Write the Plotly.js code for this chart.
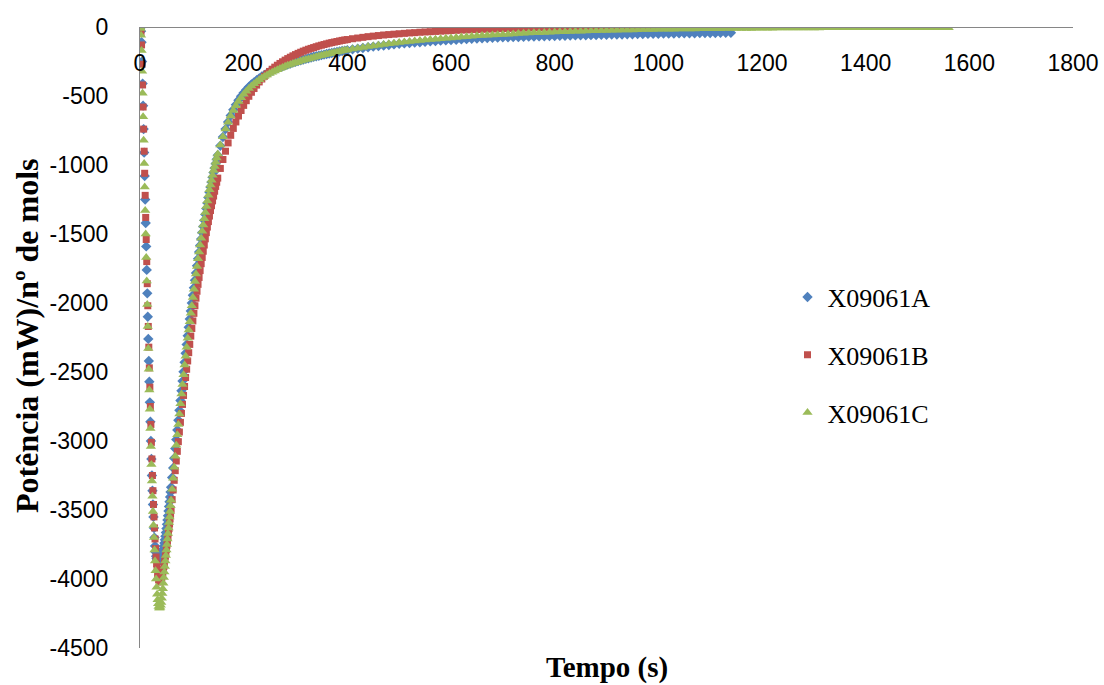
<!DOCTYPE html>
<html>
<head>
<meta charset="utf-8">
<script src="https://cdn.plot.ly/plotly-3.0.1.min.js"></script>
<style>html,body{margin:0;padding:0;background:#fff;}#chart{width:1104px;height:685px;}</style>
</head>
<body>
<div id="chart"></div>
<script>
// Tempo (s) sample times shared by all series
const time = [
0,1,2,3,4,5,6,7,8,9,10,11,12,13,14,15,16,17,18,19,20,21,22,23,24,25,26,27,28,29,
30,31,32,33,34,35,36,37,38,39,40,41,42,43,44,45,46,47,48,49,50,51,52,53,54,55,56,57,58,59,60,
62,64,66,68,70,72,74,76,78,80,82,84,86,88,90,92,94,96,98,100,
102,104,106,108,110,112,114,116,118,120,122,124,126,128,130,132,134,136,138,140,142,144,146,148,150,
155,160,165,170,175,180,185,190,195,200,205,210,215,220,225,230,235,240,245,250,
255,260,265,270,275,280,285,290,295,300,305,310,315,320,325,330,335,340,345,350,
355,360,365,370,375,380,385,390,395,400,
410,420,430,440,450,460,470,480,490,500,
510,520,530,540,550,560,570,580,590,600,
610,620,630,640,650,660,670,680,690,700,
710,720,730,740,750,760,770,780,790,800,
810,820,830,840,850,860,870,880,890,900,
910,920,930,940,950,960,970,980,990,1000,
1010,1020,1030,1040,1050,1060,1070,1080,1090,1100,
1110,1120,1130,1140,1150,1160,1170,1180,1190,1200,
1210,1220,1230,1240,1250,1260,1270,1280,1290,1300,
1310,1320,1330,1340,1350,1360,1370,1380,1390,1400,
1410,1420,1430,1440,1450,1460,1470,1480,1490,1500,
1510,1520,1530,1540,1550,1560
];

const seriesNames = ['X09061A', 'X09061B', 'X09061C'];

// X09061A (ends ~1140 s)
const valuesA = [
0,-5,-30,-110,-250,-410,-570,-740,-910,-1080,
-1250,-1420,-1590,-1760,-1930,-2100,-2260,-2420,-2570,-2720,
-2860,-3000,-3130,-3250,-3360,-3460,-3550,-3630,-3700,-3760,
-3805,-3835,-3852,-3863,-3870,-3872,-3872,-3870,-3866,-3860,
-3852,-3842,-3830,-3816,-3800,-3782,-3762,-3740,-3716,-3690,
-3663,-3634,-3604,-3573,-3541,-3508,-3474,-3440,-3405,-3370,
-3335,
-3265,-3195,-3125,-3055,-2990,-2920,-2850,-2778,-2706,-2636,
-2566,-2498,-2430,-2364,-2300,-2237,-2176,-2116,-2058,-2000,
-1944,-1889,-1835,-1782,-1730,-1680,-1631,-1583,-1536,-1490,
-1445,-1401,-1358,-1316,-1275,-1236,-1197,-1160,-1124,-1089,
-1055,-1022,-990,-959,-929,
-860,-797,-740,-688,-641,-600,-563,-531,-502,-477,
-455,-435,-417,-401,-386,-372,-359,-347,-336,-326,
-316,-307,-299,-291,-284,-277,-270,-264,-258,-252,
-246,-241,-236,-231,-226,-221,-216,-212,-208,-204,
-200,-196,-192,-188,-184,-181,-177,-174,-171,-168,
-162,-157,-152,-147,-142,-138,-134,-130,-126,-122,
-119,-116,-113,-110,-107,-104,-101,-99,-96,-94,
-92,-90,-88,-86,-84,-82,-80,-78,-77,-75,
-74,-73,-72,-71,-70,-69,-68,-67,-66,-65,
-64,-63,-62,-61,-60,-60,-59,-58,-57,-56,
-55,-54,-54,-53,-52,-51,-51,-50,-49,-49,
-48,-47,-47,-46,-46,-45,-45,-44,-44,-43,
-43,-42,-42,-42
];

// X09061B (ends ~1310 s)
const valuesB = [
0,-5,-40,-130,-270,-420,-580,-740,-900,-1060,
-1220,-1380,-1540,-1700,-1860,-2020,-2170,-2320,-2470,-2610,
-2750,-2880,-3010,-3130,-3250,-3360,-3460,-3550,-3630,-3710,
-3780,-3840,-3890,-3930,-3965,-3990,-4005,-4015,-4020,-4020,
-4015,-4005,-3990,-3975,-3955,-3935,-3910,-3885,-3860,-3835,
-3810,-3785,-3755,-3725,-3695,-3665,-3635,-3600,-3565,-3530,
-3495,
-3425,-3355,-3285,-3215,-3145,-3075,-3005,-2935,-2865,-2800,
-2735,-2670,-2605,-2540,-2480,-2420,-2360,-2300,-2240,-2185,
-2130,-2075,-2020,-1965,-1915,-1865,-1815,-1765,-1715,-1670,
-1625,-1580,-1535,-1490,-1450,-1410,-1370,-1330,-1295,-1260,
-1225,-1190,-1155,-1125,-1095,
-1025,-960,-900,-840,-785,-735,-688,-645,-605,-568,
-534,-502,-473,-446,-421,-398,-377,-357,-339,-322,
-306,-291,-277,-264,-252,-240,-229,-219,-209,-200,
-191,-183,-175,-168,-161,-155,-149,-143,-137,-132,
-127,-122,-117,-113,-109,-105,-101,-97,-94,-91,
-85,-80,-75,-70,-66,-62,-58,-55,-52,-49,
-46,-43,-41,-38,-36,-34,-32,-30,-28,-26,
-24,-22,-21,-19,-18,-16,-15,-14,-12,-11,
-10,-9,-8,-7,-6,-5,-4,-3,-2,-1,
0,0,1,2,2,3,3,4,4,5,
5,6,6,7,7,8,8,8,9,9,
10,10,10,11,11,11,12,12,12,13,
13,13,14,14,14,14,15,15,15,15,
15,16,16,16,16,16,16,16,16,16,
16
];

// X09061C (ends ~1560 s)
const valuesC = [
0,-10,-60,-170,-320,-480,-650,-820,-990,-1160,
-1330,-1500,-1670,-1840,-2010,-2170,-2330,-2480,-2630,-2770,
-2910,-3040,-3170,-3290,-3400,-3510,-3610,-3700,-3790,-3870,
-3940,-4000,-4060,-4110,-4150,-4180,-4200,-4210,-4210,-4205,
-4190,-4170,-4140,-4105,-4070,-4030,-3990,-3950,-3910,-3870,
-3830,-3790,-3750,-3710,-3670,-3630,-3590,-3550,-3510,-3470,
-3430,
-3350,-3270,-3190,-3110,-3030,-2955,-2880,-2805,-2730,-2660,
-2590,-2520,-2450,-2385,-2320,-2255,-2195,-2135,-2075,-2020,
-1960,-1900,-1845,-1790,-1735,-1680,-1630,-1580,-1530,-1480,
-1435,-1390,-1345,-1300,-1260,-1220,-1180,-1145,-1110,-1075,
-1040,-1010,-980,-950,-920,
-855,-795,-740,-690,-645,-605,-570,-540,-512,-488,
-466,-446,-428,-412,-397,-383,-370,-358,-347,-337,
-327,-318,-309,-301,-293,-285,-278,-271,-265,-259,
-253,-247,-241,-236,-231,-226,-221,-216,-211,-206,
-201,-197,-193,-189,-185,-181,-177,-173,-169,-166,
-160,-154,-148,-142,-137,-132,-127,-122,-117,-113,
-109,-105,-101,-97,-94,-91,-88,-85,-82,-79,
-76,-73,-70,-67,-64,-62,-60,-58,-56,-54,
-52,-50,-48,-46,-44,-42,-41,-39,-38,-36,
-35,-34,-32,-31,-30,-29,-28,-27,-26,-25,
-24,-23,-22,-22,-21,-20,-19,-19,-18,-17,
-17,-16,-16,-15,-15,-14,-14,-13,-13,-12,
-12,-12,-11,-11,-11,-10,-10,-10,-9,-9,
-9,-9,-8,-8,-8,-8,-7,-7,-7,-7,
-7,-6,-6,-6,-6,-6,-6,-5,-5,-5,
-5,-5,-5,-5,-5,-5,-5,-5,-5,-5,
-5,-5,-5,-5,-5,-5
];

const xTickVals = [0,200,400,600,800,1000,1200,1400,1600,1800];
const xTickText = ['0','200','400','600','800','1000','1200','1400','1600','1800'];
const yTickVals = [0,-500,-1000,-1500,-2000,-2500,-3000,-3500,-4000,-4500];
const yTickText = ['0','-500','-1000','-1500','-2000','-2500','-3000','-3500','-4000','-4500'];

const tickFont = {family: 'Liberation Sans, Arial, sans-serif', size: 23, color: '#000'};

function mk(name, vals, symbol, size, color, grp) {
  return {
    type: 'scatter', mode: 'markers', name: name, legendgroup: grp,
    x: time.slice(0, vals.length), y: vals,
    marker: {symbol: symbol, size: size, color: color, line: {width: 0}}
  };
}

const data = [
  mk(seriesNames[0], valuesA, 'diamond', 8, '#4F81BD', 'a'),
  mk(seriesNames[1], valuesB, 'square', 7, '#C0504D', 'b'),
  mk(seriesNames[2], valuesC, 'triangle-up', 9, '#9BBB59', 'c')
];

const layout = {
  width: 1104, height: 685,
  margin: {l: 140, r: 31, t: 27, b: 37},
  paper_bgcolor: '#ffffff', plot_bgcolor: '#ffffff',
  showlegend: true,
  legend: {
    x: 0.694, xanchor: 'left', y: 0.603, yanchor: 'top',
    font: {family: 'Liberation Serif, Times New Roman, serif', size: 26, color: '#000'},
    tracegroupgap: 21, bgcolor: 'rgba(0,0,0,0)', borderwidth: 0, itemsizing: 'trace'
  },
  xaxis: {
    range: [0, 1800], tickvals: xTickVals, ticktext: xTickText, anchor: 'free', position: 1, side: 'bottom',
    showline: true, linecolor: '#868686', linewidth: 1, showgrid: false, zeroline: false,
    ticks: '', ticklabelstandoff: 15, tickfont: tickFont
  },
  yaxis: {
    range: [-4500, 0], tickvals: yTickVals, ticktext: yTickText,
    showline: true, linecolor: '#868686', linewidth: 1, showgrid: false, zeroline: false,
    ticks: '', ticklabelstandoff: 26, tickfont: tickFont
  },
  annotations: [
    {text: 'Tempo (s)', xref: 'paper', yref: 'paper', x: 0.5, y: -0.0322,
     xanchor: 'center', yanchor: 'middle', showarrow: false,
     font: {family: 'Liberation Serif, Times New Roman, serif', size: 29, color: '#000', weight: 'bold'}},
    {text: 'Potência (mW)/nº de mols', xref: 'paper', yref: 'paper', x: -0.1211, y: 0.5024,
     xanchor: 'center', yanchor: 'middle', textangle: -90, showarrow: false,
     font: {family: 'Liberation Serif, Times New Roman, serif', size: 32, color: '#000', weight: 'bold'}}
  ]
};

Plotly.newPlot('chart', data, layout, {staticPlot: true, displayModeBar: false});
</script>
</body>
</html>
